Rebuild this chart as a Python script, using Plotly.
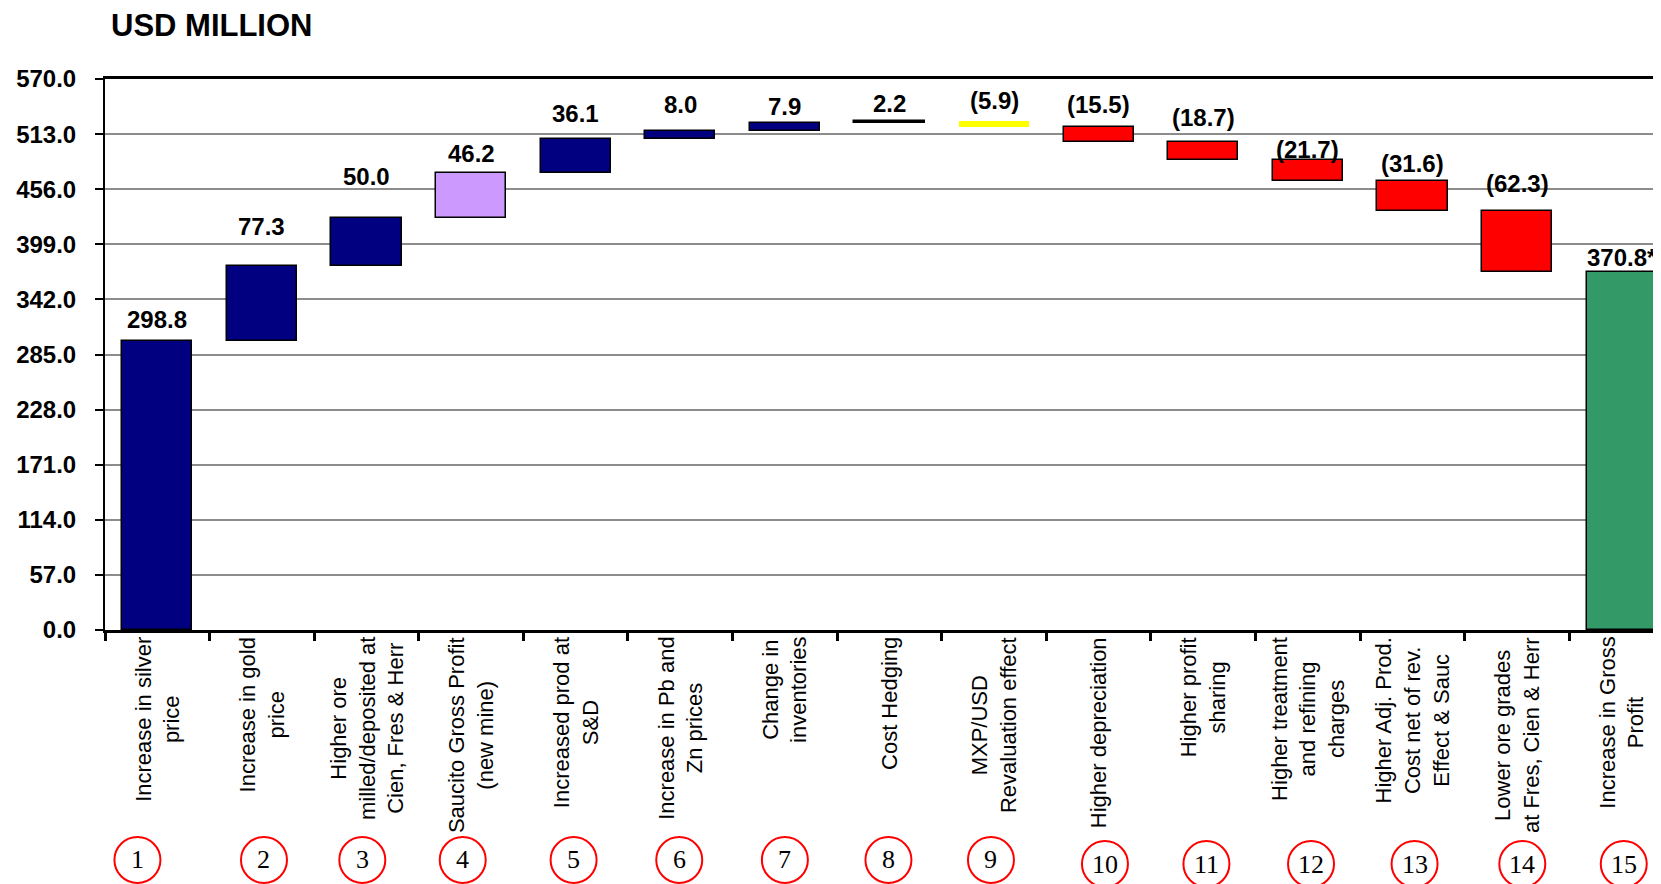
import numpy as np
import plotly.graph_objects as go

# ---------------- data ----------------
categories = [
    "Increase in silver<br>price",
    "Increase in gold<br>price",
    "Higher ore<br>milled/deposited at<br>Cien, Fres &amp; Herr",
    "Saucito Gross Profit<br>(new mine)",
    "Increased prod at<br>S&amp;D",
    "Increase in Pb and<br>Zn prices",
    "Change in<br>inventories",
    "Cost Hedging",
    "MXP/USD<br>Revaluation effect",
    "Higher depreciation",
    "Higher profit<br>sharing",
    "Higher treatment<br>and refining<br>charges",
    "Higher Adj. Prod.<br>Cost net of rev.<br>Effect &amp; Sauc",
    "Lower ore grades<br>at Fres, Cien &amp; Herr",
    "Increase in Gross<br>Profit",
]
deltas = [298.8, 77.3, 50.0, 46.2, 36.1, 8.0, 7.9, 2.2, -5.9, -15.5, -18.7, -21.7, -31.6, -62.3]
total_value = 370.8
value_labels = ["298.8", "77.3", "50.0", "46.2", "36.1", "8.0", "7.9", "2.2", "(5.9)",
                "(15.5)", "(18.7)", "(21.7)", "(31.6)", "(62.3)", "370.8*"]
circle_numbers = ["1", "2", "3", "4", "5", "6", "7", "8", "9", "10", "11", "12", "13", "14", "15"]
y_ticks = [0.0, 57.0, 114.0, 171.0, 228.0, 285.0, 342.0, 399.0, 456.0, 513.0, 570.0]

# ---------------- styling ----------------
NAVY, LAV, BLACK, YELLOW, RED, GREEN = "#000080", "#CC99FF", "#000000", "#FFFF00", "#FF0000", "#339966"
bar_colors = [NAVY, NAVY, NAVY, LAV, NAVY, NAVY, NAVY, BLACK, YELLOW, RED, RED, RED, RED, RED, GREEN]
line_widths = [1.5] * 15
line_widths[8] = 0
label_shift = [22, 40, 42, 20, 25, 26, 17, 18, 21, 22, 24, 10, 17, 28, 14]
circle_shift = [-0.19, 0.02, -0.04, -0.08, -0.02, -0.01, 0.0, -0.01, -0.03, 0.06, 0.03, 0.03, 0.02, 0.05, 0.02]
circle_y = [-0.4174] * 9 + [-0.4247] * 6
SANS = "Liberation Sans, Arial, sans-serif"
SERIF = "Liberation Serif, Times New Roman, serif"
W, H = 1653, 876

# ---------------- derived ----------------
cum = np.cumsum(deltas)
bases = list(np.concatenate([[0.0], cum[:-1]])) + [0.0]
heights = list(deltas) + [total_value]
tops = [max(b, b + h) for b, h in zip(bases, heights)]
xs = list(range(len(categories)))

fig = go.Figure()
fig.add_trace(go.Bar(
    x=xs, y=heights, base=bases, width=0.67,
    marker=dict(color=bar_colors, line=dict(color="black", width=line_widths)),
    hoverinfo="skip", showlegend=False,
))

annotations = []
for i, (t, lab) in enumerate(zip(tops, value_labels)):
    annotations.append(dict(x=i, y=t, xref="x", yref="y", text="<b>%s</b>" % lab,
                            showarrow=False, yshift=label_shift[i], yanchor="middle",
                            font=dict(family=SANS, size=24, color="black")))
for i, cat in enumerate(categories):
    annotations.append(dict(x=i, y=0, xref="x", yref="paper", text=cat, textangle=-90,
                            showarrow=False, xanchor="center", yanchor="top", yshift=-5,
                            align="center", font=dict(family=SANS, size=22, color="black")))
shapes = []
for i, num in enumerate(circle_numbers):
    cx = i + circle_shift[i]
    shapes.append(dict(type="circle", xref="x", yref="paper", xsizemode="pixel", ysizemode="pixel",
                       xanchor=cx, yanchor=circle_y[i], x0=-23, x1=23, y0=-23, y1=23,
                       line=dict(color="#FF0000", width=2), fillcolor="rgba(0,0,0,0)"))
    annotations.append(dict(x=cx, y=circle_y[i], xref="x", yref="paper", text=num, showarrow=False,
                            xanchor="center", yanchor="middle",
                            font=dict(family=SERIF, size=26, color="black")))

fig.update_layout(
    width=W, height=H,
    margin=dict(l=97, r=0, t=71, b=254),
    paper_bgcolor="white", plot_bgcolor="white",
    title=dict(text="<b>USD MILLION</b>", x=103 / W, xanchor="left", xref="container",
               y=1 - 17 / H, yanchor="middle", yref="container",
               font=dict(family=SANS, size=31, color="black")),
    annotations=annotations, shapes=shapes,
    bargap=0,
)
fig.update_xaxes(range=[-0.5, 14.376], tickmode="array", tickvals=[i - 0.5 for i in range(16)],
                 showticklabels=False, ticks="outside", ticklen=8, tickwidth=3, tickcolor="black",
                 showline=True, linecolor="black", linewidth=3, mirror=True, showgrid=False,
                 zeroline=False)
fig.update_yaxes(range=[0, 570], tickmode="array", tickvals=y_ticks, tickformat=".1f",
                 ticks="outside", ticklen=8, tickwidth=2, tickcolor="black",
                 showline=True, linecolor="black", linewidth=2, mirror=False,
                 showgrid=True, gridcolor="#8c8c8c", gridwidth=1.5, zeroline=False,
                 ticklabelstandoff=14,
                 tickfont=dict(family=SANS, size=24, color="black", weight="bold"))

fig.write_html("out.html")
